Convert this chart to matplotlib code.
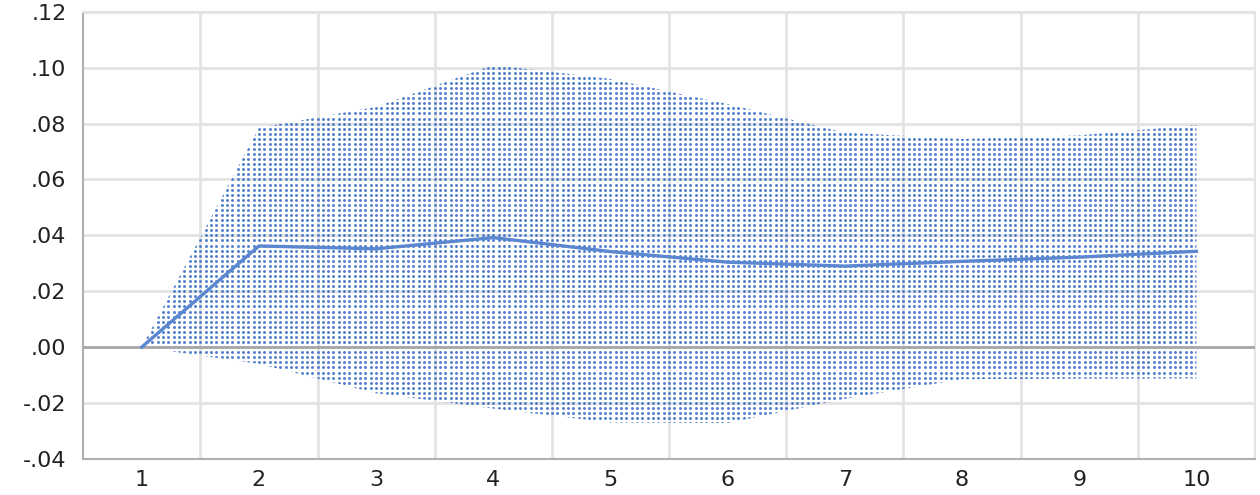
import numpy as np
import matplotlib
matplotlib.use("Agg")
import matplotlib.pyplot as plt
from matplotlib.ticker import FuncFormatter

# impulse response and its +/- 2 s.e. band, periods 1..10
periods = [1, 2, 3, 4, 5, 6, 7, 8, 9, 10]
response = [0.000, 0.0362, 0.0352, 0.0392, 0.0342, 0.0304, 0.0290, 0.0307, 0.0322, 0.0343]
upper = [0.000, 0.0785, 0.0860, 0.1010, 0.0960, 0.0870, 0.0768, 0.0745, 0.0758, 0.0795]
lower = [0.000, -0.0060, -0.0165, -0.0220, -0.0270, -0.0272, -0.0185, -0.0115, -0.0113, -0.0112]
yticks = [-0.04, -0.02, 0.00, 0.02, 0.04, 0.06, 0.08, 0.10, 0.12]

blue = "#4f7fcc"
grid_c = "#e3e3e3"

fig = plt.figure(figsize=(12.6, 4.95), dpi=100)
ax = fig.add_axes([0.066, 0.073, 0.930, 0.903])

x = np.array(periods, dtype=float)
ax.set_xlim(x[0] - 0.5, x[-1] + 0.5)
ax.set_ylim(yticks[0], yticks[-1])

# gridlines: horizontal at ticks, vertical between categories
for yv in yticks:
    ax.axhline(yv, color=grid_c, lw=2, zorder=0)
for xv in x[:-1] + 0.5:
    ax.axvline(xv, color=grid_c, lw=2, zorder=0)

# dotted band: invisible polygon used as clip path for a dot texture
band = ax.fill_between(x, lower, upper, facecolor="none", edgecolor="none", zorder=1)
gx, gy = np.meshgrid(np.arange(x[0], x[-1] + 1e-9, 1 / 22),
                     np.arange(yticks[0], yticks[-1], 0.02 / 11))
dots = ax.scatter(gx.ravel(), gy.ravel(), s=4.5, color=blue, linewidths=0, zorder=2)
dots.set_clip_path(band.get_paths()[0], ax.transData)

ax.axhline(0, color="#a8a8a8", lw=2, zorder=3)
ax.plot(x, response, color="#5b86d0", lw=2.4, zorder=4)

ax.set_xticks(x)
ax.set_xticklabels([str(p) for p in periods])
ax.set_yticks(yticks)
ax.yaxis.set_major_formatter(FuncFormatter(lambda v, _: ("%.2f" % v).replace("0.", ".", 1)))
ax.tick_params(length=0, labelsize=16, colors="#222222")
ax.tick_params(axis="y", pad=12)
ax.tick_params(axis="x", pad=8)

for side in ["top", "right"]:
    ax.spines[side].set_color(grid_c)
    ax.spines[side].set_linewidth(1.5)
for side in ["left", "bottom"]:
    ax.spines[side].set_color("#b0b0b0")
    ax.spines[side].set_linewidth(1.5)

fig.savefig("out.png", dpi=100)
